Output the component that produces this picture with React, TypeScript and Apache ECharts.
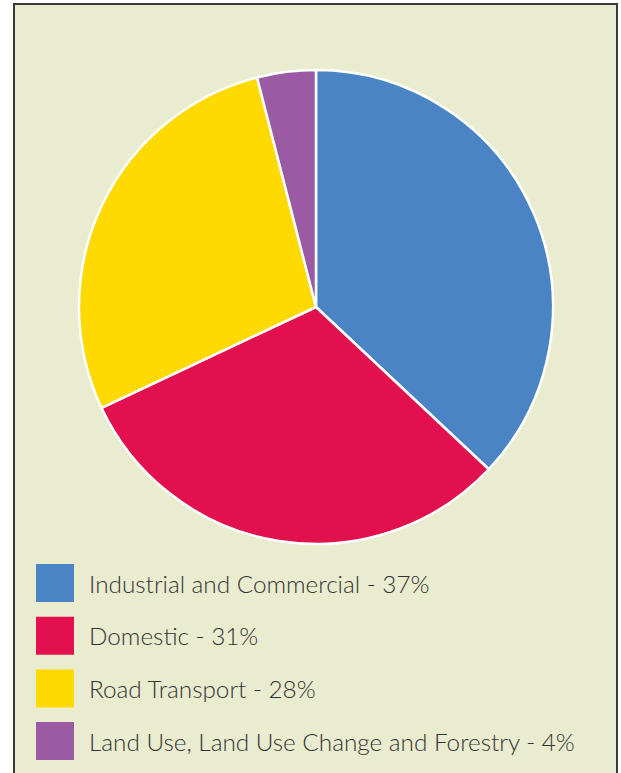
import React, { useEffect, useRef } from "react";
import * as echarts from "echarts";

const categories = [
  "Industrial and Commercial",
  "Domestic",
  "Road Transport",
  "Land Use, Land Use Change and Forestry",
];
const values = [37, 31, 28, 4];
const colors = ["#4A84C4", "#E3104E", "#FFDA00", "#9A5BA4"];

export default function App() {
  const ref = useRef<HTMLDivElement>(null);
  useEffect(() => {
    if (!ref.current) return;
    const chart = echarts.init(ref.current, null, { renderer: "svg" });
    const pct: Record<string, number> = {};
    categories.forEach((c, i) => (pct[c] = values[i]));
    chart.setOption({
      animation: false,
      backgroundColor: "#ffffff",
      graphic: [
        {
          type: "rect",
          z: -10,
          shape: { x: 14, y: 4, width: 603, height: 800 },
          style: { fill: "#E9ECCF", stroke: "#3a3a3a", lineWidth: 2 },
        },
      ],
      legend: {
        orient: "vertical",
        left: 36,
        top: 564,
        height: 220,
        padding: 0,
        icon: "rect",
        itemWidth: 38,
        itemHeight: 38,
        itemGap: 14.7,
        selectedMode: false,
        itemStyle: { borderWidth: 0 },
        textStyle: {
          fontFamily: "Lato",
          fontWeight: 300,
          fontSize: 24.3,
          lineHeight: 38,
          color: "#333333",
          padding: [0, 0, 0, 10],
        },
        formatter: (name: string) => `${name} - ${pct[name]}%`,
        data: categories,
      },
      series: [
        {
          type: "pie",
          center: [316, 307],
          radius: 237,
          startAngle: 90,
          clockwise: true,
          label: { show: false },
          labelLine: { show: false },
          silent: true,
          itemStyle: { borderColor: "#ffffff", borderWidth: 2.5 },
          data: categories.map((c, i) => ({
            name: c,
            value: values[i],
            itemStyle: { color: colors[i] },
          })),
        },
      ],
    });
    return () => chart.dispose();
  }, []);
  return (
    <div
      ref={ref}
      style={{ position: "fixed", left: 0, top: 0, width: 621, height: 773 }}
    />
  );
}
